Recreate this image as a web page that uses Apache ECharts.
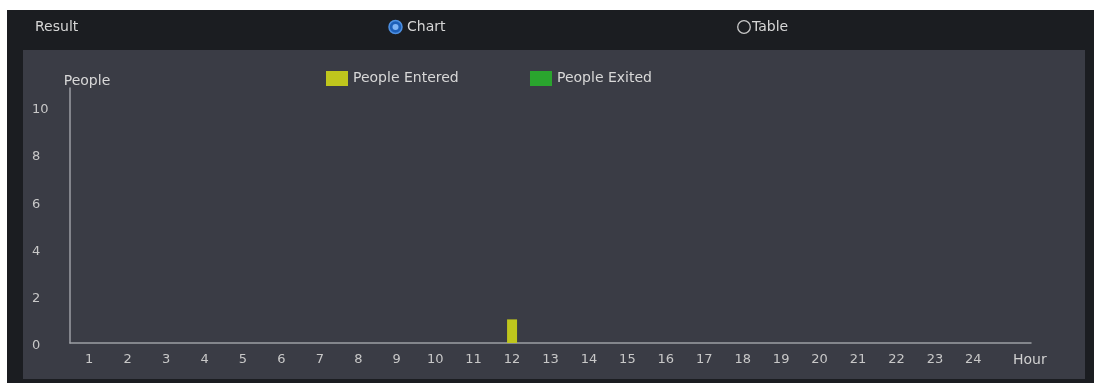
<!DOCTYPE html>
<html>
<head>
<meta charset="utf-8">
<script src="https://cdn.jsdelivr.net/npm/echarts@6/dist/echarts.min.js"></script>
<style>
html,body{margin:0;padding:0;background:#fff;}
#c{width:1094px;height:383px;}
</style>
</head>
<body>
<div id="c"></div>
<script>
const hours = ['1','2','3','4','5','6','7','8','9','10','11','12','13','14','15','16','17','18','19','20','21','22','23','24'];
const xTickLabels = hours.concat(['Hour']);
const peopleEntered = [0,0,0,0,0,0,0,0,0,0,0,1,0,0,0,0,0,0,0,0,0,0,0,0];
const peopleExited  = [0,0,0,0,0,0,0,0,0,0,0,0,0,0,0,0,0,0,0,0,0,0,0,0];
const yTicks = [0,2,4,6,8,10];

const FONT = 'DejaVu Sans';
const chart = echarts.init(document.getElementById('c'), null, {renderer:'canvas'});
chart.setOption({
  backgroundColor: '#ffffff',
  animation: false,
  textStyle: {fontFamily: FONT},
  graphic: [
    {type:'rect', z:-100, silent:true, shape:{x:7,y:10,width:1087,height:373}, style:{fill:'#1b1d21'}},
    {type:'rect', z:-99, silent:true, shape:{x:23,y:50,width:1062,height:329}, style:{fill:'#3a3c45'}},
    {type:'text', z:5, left:35, top:20, style:{text:'Result', fill:'#d6d6d6', font:'14px "DejaVu Sans"'}},
    {type:'circle', z:5, shape:{cx:395.5,cy:27,r:6.5}, style:{fill:'#1d5fb8', stroke:'#4d8fe0', lineWidth:1.5}},
    {type:'circle', z:6, shape:{cx:395.5,cy:27,r:3}, style:{fill:'#7fb4f5'}},
    {type:'text', z:5, left:407, top:20, style:{text:'Chart', fill:'#d6d6d6', font:'14px "DejaVu Sans"'}},
    {type:'circle', z:5, shape:{cx:744,cy:27,r:6.3}, style:{fill:'none', stroke:'#c8c8c8', lineWidth:1.3}},
    {type:'text', z:5, left:752, top:20, style:{text:'Table', fill:'#d6d6d6', font:'14px "DejaVu Sans"'}}
  ],
  legend: [
    {data:['People Entered'], left:321, top:66, itemWidth:22, itemHeight:15, itemGap:7,
     textStyle:{color:'#d8d8d8', fontSize:14, fontFamily:FONT}, icon:'rect'},
    {data:['People Exited'], left:525, top:66, itemWidth:22, itemHeight:15, itemGap:7,
     textStyle:{color:'#d8d8d8', fontSize:14, fontFamily:FONT}, icon:'rect'}
  ],
  grid: {left:70, right:63, top:88, bottom:40, containLabel:false},
  xAxis: {
    type:'category',
    data: xTickLabels,
    boundaryGap: true,
    axisLine:{lineStyle:{color:'#9c9ea4', width:1.5}},
    axisTick:{show:false},
    axisLabel:{color:'#c8c8c8', fontSize:13, margin:10, interval:0, fontFamily:FONT,
      formatter: v => v === 'Hour' ? '{h|Hour}' : v,
      rich:{h:{color:'#d0d0d0', fontSize:14, fontFamily:FONT, padding:[0,0,0,36]}}}
  },
  yAxis: {
    type:'value',
    min:0, max:10.8, interval:2,
    name:'People',
    nameLocation:'end',
    nameGap:0,
    nameTextStyle:{color:'#d8d8d8', fontSize:14, align:'center', padding:[0,0,0,34], fontFamily:FONT},
    axisLine:{show:true, lineStyle:{color:'#9c9ea4', width:1.5}},
    axisTick:{show:false},
    splitLine:{show:false},
    axisLabel:{color:'#c8c8c8', fontSize:13, align:'left', margin:38, fontFamily:FONT,
      formatter: v => yTicks.indexOf(v) >= 0 ? '{a|' + v + '}' : '',
      rich:{a:{color:'#c8c8c8', fontSize:13, fontFamily:FONT, padding:[6,0,0,0]}}}
  },
  series: [
    {name:'People Entered', type:'bar', data:peopleEntered, barWidth:10, barGap:'-100%', itemStyle:{color:'#bfc61d'}},
    {name:'People Exited', type:'bar', data:peopleExited, barWidth:10, itemStyle:{color:'#2aa52e'}}
  ]
});
</script>
</body>
</html>
